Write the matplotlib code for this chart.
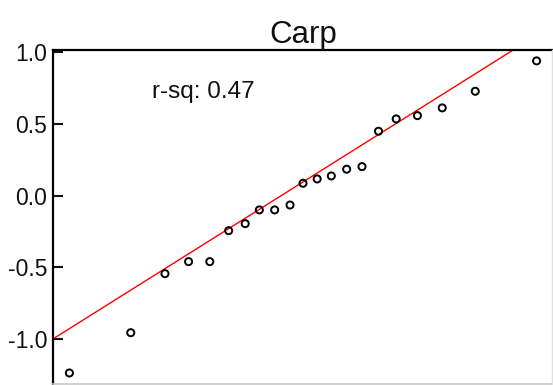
import matplotlib
matplotlib.use("Agg")
import matplotlib.pyplot as plt
from matplotlib.lines import Line2D

plt.rcParams["font.family"] = ["Liberation Sans", "DejaVu Sans"]
plt.rcParams["axes.unicode_minus"] = False

# Normal QQ data for carp
theoretical = [-1.98, -1.46, -1.17, -0.97, -0.79, -0.63, -0.49, -0.37, -0.24, -0.11,
               0.0, 0.12, 0.24, 0.37, 0.50, 0.64, 0.79, 0.97, 1.18, 1.46, 1.98]
sample = [-1.237, -0.956, -0.544, -0.460, -0.460, -0.244, -0.195, -0.099, -0.099, -0.065,
          0.087, 0.117, 0.138, 0.185, 0.203, 0.450, 0.536, 0.559, 0.613, 0.729, 0.941]
fit_intercept = 0.096
fit_slope = 0.517
r_squared = 0.47
title = "Carp"
y_ticks = [-1.0, -0.5, 0.0, 0.5, 1.0]
y_tick_labels = ["-1.0", "-0.5", "0.0", "0.5", "1.0"]

fig = plt.figure(figsize=(5.53, 3.85), dpi=100)
ax = fig.add_axes([53 / 553, 0.0, 1 - 53 / 553, 1 - 50 / 385])

ax.scatter(theoretical, sample, s=26, facecolors="none", edgecolors="black",
           linewidths=1.4, zorder=3)
ax.axline((0, fit_intercept), slope=fit_slope, color="red", linewidth=1.0, zorder=2)

ax.set_xlim(-2.119, 2.119)
ax.set_ylim(-1.321, 1.017)

ax.set_yticks(y_ticks)
ax.set_yticklabels(y_tick_labels)
ax.set_xticks([])
ax.tick_params(axis="y", direction="in", length=7, width=1.5, pad=4,
               labelsize=16.5, colors="#111111")

for side in ("bottom", "right"):
    ax.spines[side].set_visible(False)
for side in ("left", "top"):
    ax.spines[side].set_linewidth(1.6)
    ax.spines[side].set_color("black")

ax.set_title(title, fontsize=22.5, pad=5, color="#111111")
ax.text(-1.28, 0.682, f"r-sq: {r_squared:.2f}", fontsize=17.5, ha="left",
        va="baseline", color="#111111")

# thin frame edge along the bottom and right of the canvas
fig.add_artist(Line2D([53 / 553, 1.0], [1.5 / 385, 1.5 / 385], transform=fig.transFigure,
                      color="#c8c8c8", linewidth=1.2))
fig.add_artist(Line2D([551.5 / 553, 551.5 / 553], [0, 1 - 50 / 385], transform=fig.transFigure,
                      color="#e0e0e0", linewidth=1.0))

fig.savefig("out.png", dpi=100)
